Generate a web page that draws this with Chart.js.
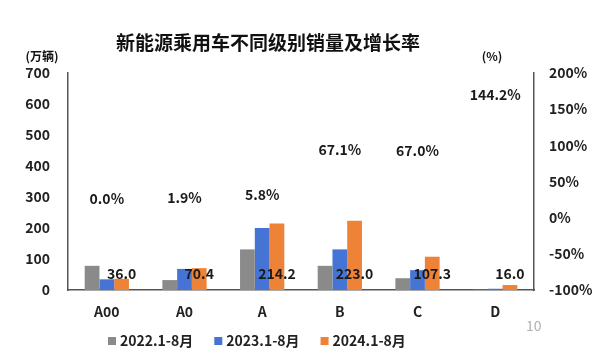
<!DOCTYPE html>
<html>
<head>
<meta charset="utf-8">
<script src="https://cdn.jsdelivr.net/npm/chart.js@4/dist/chart.umd.min.js"></script>
<style>
  html, body { margin: 0; padding: 0; background: #fff; }
  #wrap { width: 600px; height: 363px; }
</style>
</head>
<body>
<div id="wrap"><canvas id="salesChart" width="600" height="363"></canvas></div>
<script>
const categories = ['A00', 'A0', 'A', 'B', 'C', 'D'];
const seriesNames = ['2022.1-8月', '2023.1-8月', '2024.1-8月'];
const sales2022 = [78, 32, 131, 78, 38, 1];
const sales2023 = [34.5, 68, 200, 131, 64, 4];
const sales2024 = [36.0, 70.4, 214.2, 223.0, 107.3, 16.0];
const growth = [0.0, 1.9, 5.8, 67.1, 67.0, 144.2];
const colors = ['#8a8a8a', '#4674d4', '#ee8236'];

const FONT = '"Noto Sans CJK SC", "Open Sans", sans-serif';

// labels, title, legend drawn on top of the chart
const overlay = {
    id: 'overlay',
    afterDatasetsDraw(chart) {
        const ctx = chart.ctx;
        ctx.save();
        ctx.fillStyle = '#1a1a1a';
        ctx.textAlign = 'center';
        ctx.textBaseline = 'middle';
        ctx.font = 'bold 14px ' + FONT;

        // 2024 values near the base of the orange bars
        const barMeta = chart.getDatasetMeta(2);
        const base = chart.scales.y.getPixelForValue(0);
        barMeta.data.forEach((bar, i) => {
            ctx.fillText(sales2024[i].toFixed(1), bar.x, base - 16);
        });

        // growth rate labels above the hidden line points
        const lineMeta = chart.getDatasetMeta(3);
        lineMeta.data.forEach((pt, i) => {
            ctx.fillText(growth[i].toFixed(1) + '%', pt.x, pt.y - 19);
        });

        // title and unit labels
        ctx.fillStyle = '#111';
        ctx.font = 'bold 19px ' + FONT;
        ctx.fillText('新能源乘用车不同级别销量及增长率', 268, 43);
        ctx.font = 'bold 12px ' + FONT;
        ctx.fillText('(万辆)', 42, 56);
        ctx.fillText('(%)', 492, 56);

        // legend
        ctx.font = 'bold 14px ' + FONT;
        ctx.textAlign = 'left';
        let x = 108;
        seriesNames.forEach((name, i) => {
            ctx.fillStyle = colors[i];
            ctx.fillRect(x, 337, 8, 8);
            ctx.fillStyle = '#222';
            ctx.fillText(name, x + 12, 341);
            x += 12 + ctx.measureText(name).width + 21;
        });

        // page number
        ctx.fillStyle = '#b0b0b0';
        ctx.font = '14px ' + FONT;
        ctx.fillText('10', 526, 326);
        ctx.restore();
    }
};

new Chart(document.getElementById('salesChart').getContext('2d'), {
    data: {
        labels: categories,
        datasets: [
            { type: 'bar', label: seriesNames[0], data: sales2022, backgroundColor: colors[0], yAxisID: 'y', order: 2 },
            { type: 'bar', label: seriesNames[1], data: sales2023, backgroundColor: colors[1], yAxisID: 'y', order: 2 },
            { type: 'bar', label: seriesNames[2], data: sales2024, backgroundColor: colors[2], yAxisID: 'y', order: 2 },
            { type: 'line', label: '增长率', data: growth, yAxisID: 'y1', showLine: false, pointRadius: 0, order: 1 }
        ]
    },
    options: {
        responsive: false,
        animation: false,
        layout: { padding: { top: 73, left: 0, right: 0, bottom: 0 } },
        datasets: {
            bar: { barPercentage: 1, categoryPercentage: 0.57 }
        },
        plugins: {
            legend: { display: false },
            tooltip: { enabled: false }
        },
        scales: {
            x: {
                grid: { display: false, drawTicks: false },
                border: { display: true, color: '#555', width: 1.5 },
                ticks: { color: '#222', padding: 13, font: { family: FONT, size: 14, weight: 'bold' } },
                afterFit: (s) => { s.height = 73; }
            },
            y: {
                position: 'left',
                min: 0,
                max: 700,
                grid: { display: false, drawTicks: false },
                border: { display: true, color: '#555', width: 1.5 },
                ticks: { stepSize: 100, color: '#222', padding: 18, font: { family: FONT, size: 14, weight: 'bold' } },
                afterFit: (s) => { s.width = 68; }
            },
            y1: {
                position: 'right',
                min: -100,
                max: 200,
                grid: { display: false, drawTicks: false },
                border: { display: true, color: '#555', width: 1.5 },
                ticks: { stepSize: 50, color: '#222', padding: 15, font: { family: FONT, size: 14, weight: 'bold' }, callback: (v) => v + '%' },
                afterFit: (s) => { s.width = 66; }
            }
        }
    },
    plugins: [overlay]
});
</script>
</body>
</html>
